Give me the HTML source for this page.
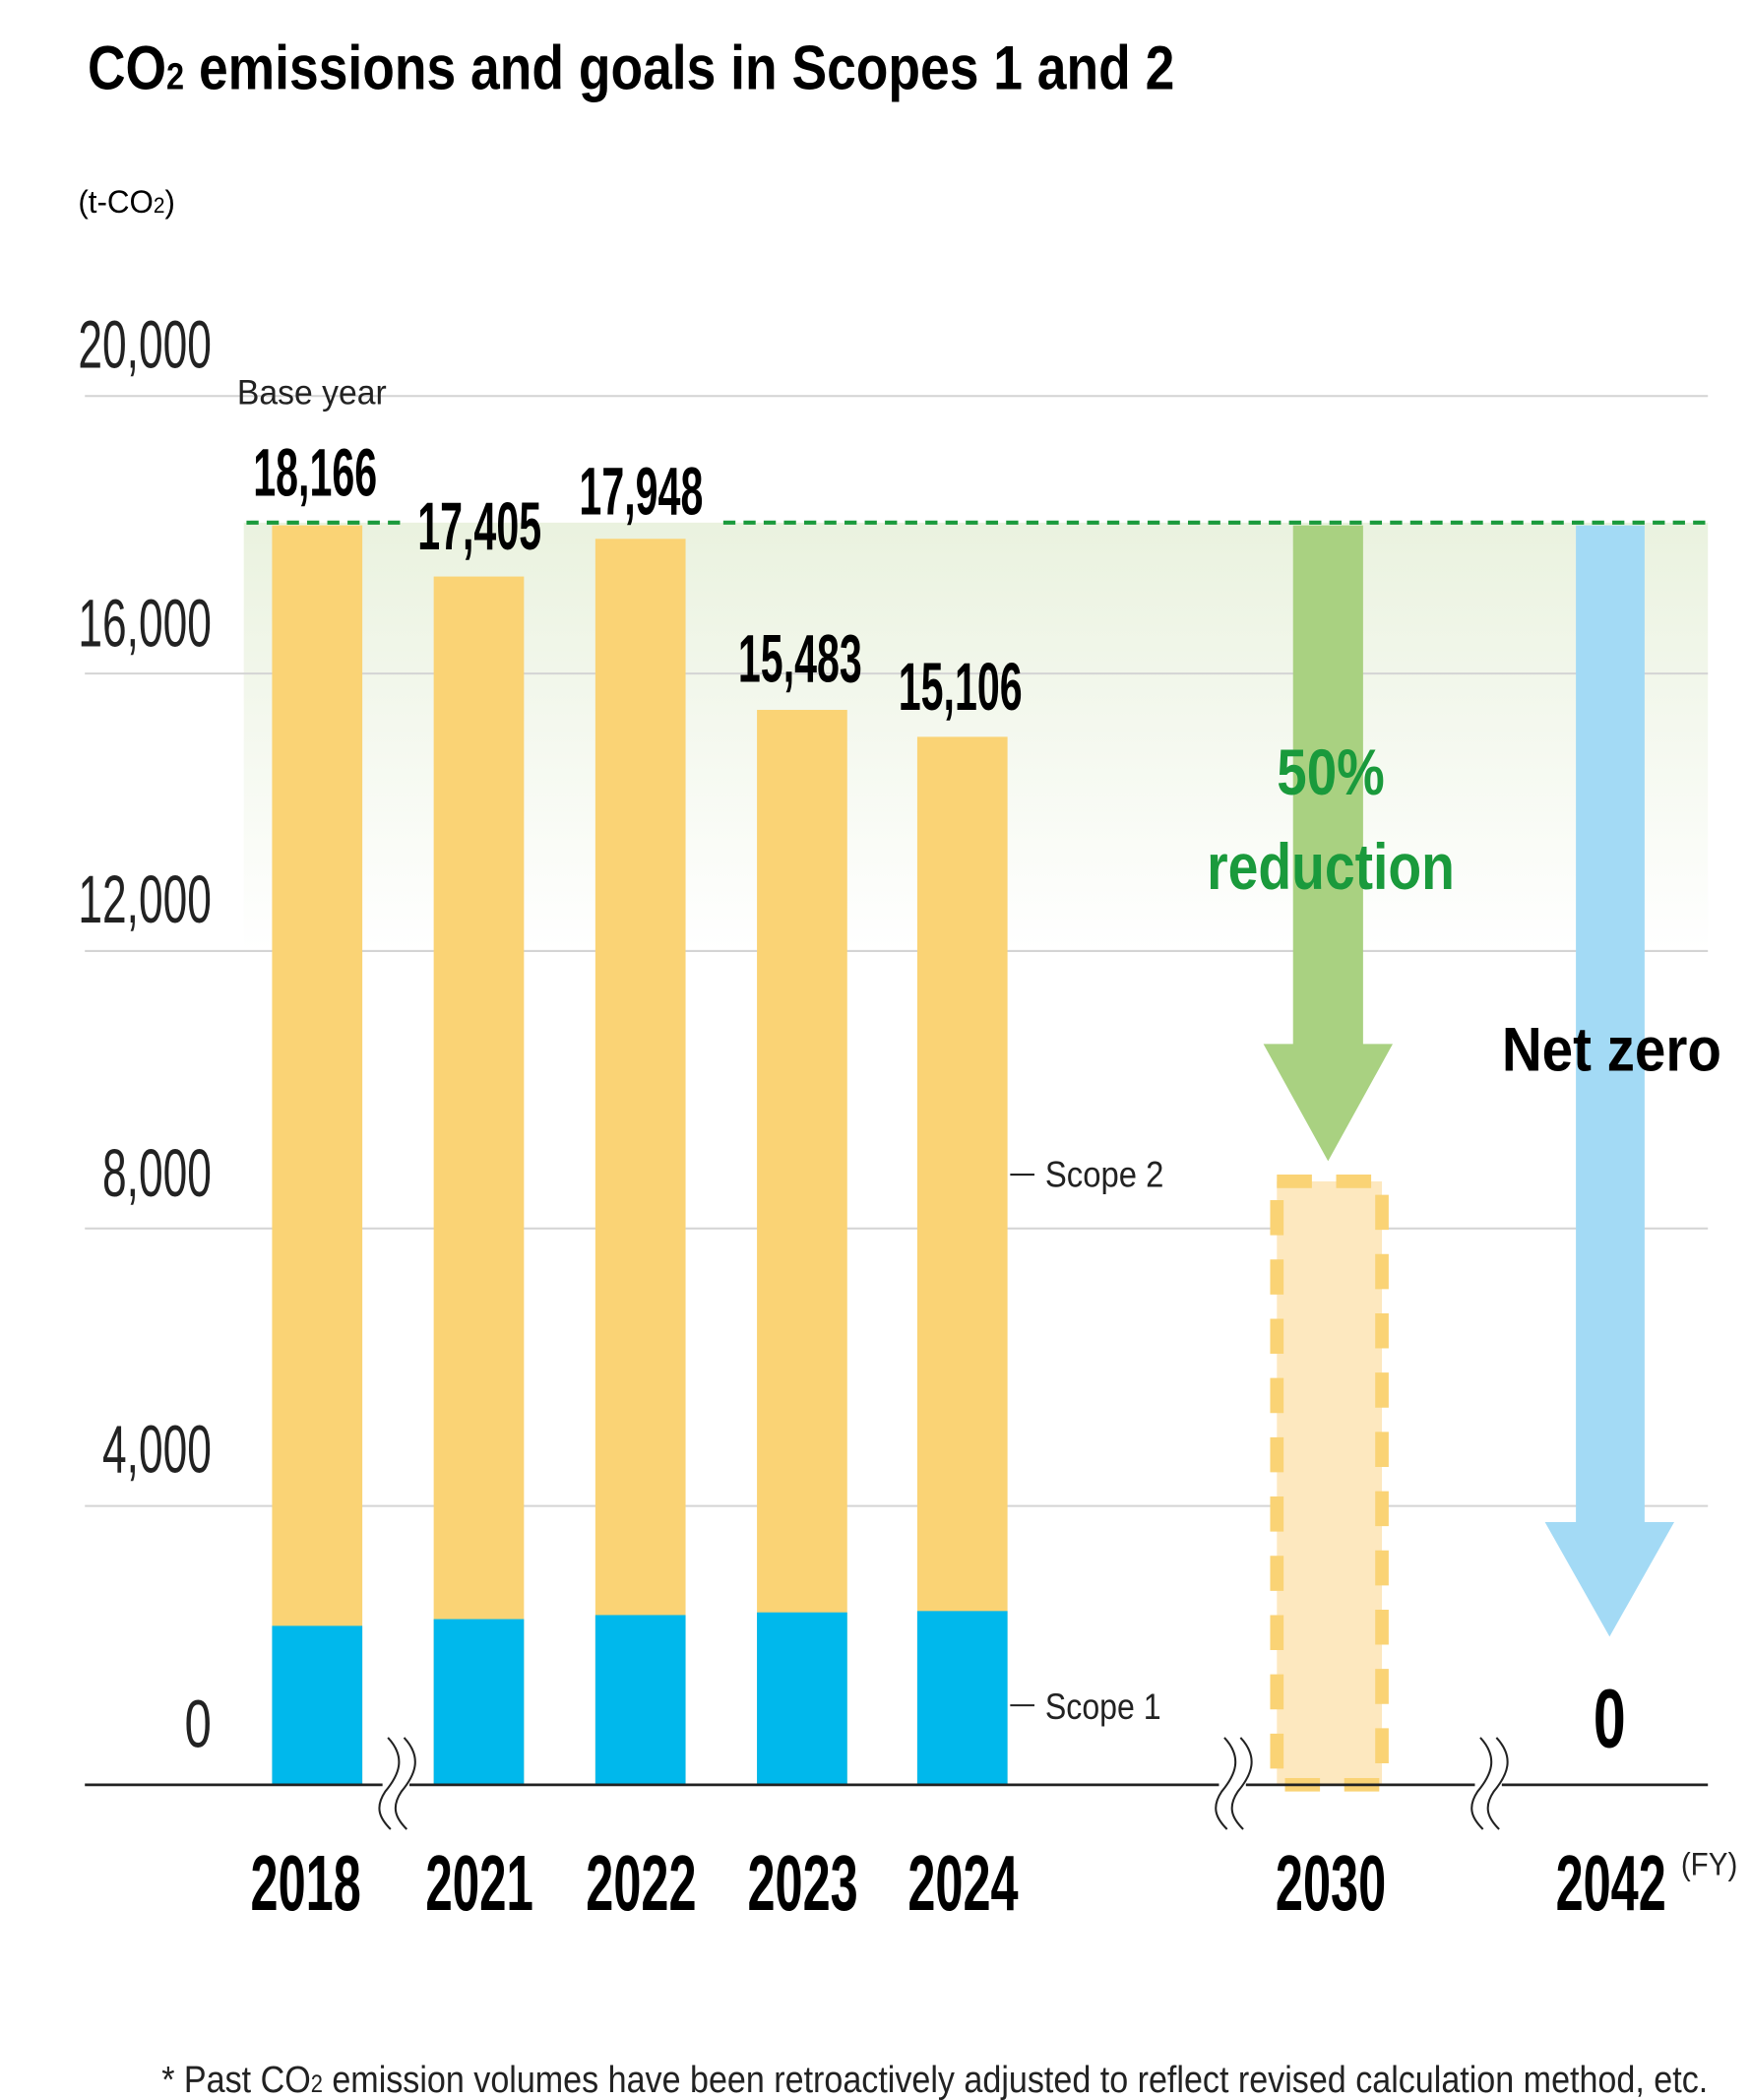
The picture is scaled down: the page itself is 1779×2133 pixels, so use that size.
<!DOCTYPE html>
<html><head><meta charset="utf-8"><style>html,body{margin:0;padding:0;background:#fff}svg{display:block}</style></head>
<body>
<svg width="1779" height="2133" viewBox="0 0 1300 1559" preserveAspectRatio="none" xmlns="http://www.w3.org/2000/svg" font-family="Liberation Sans, sans-serif">
<defs>
<linearGradient id="g" x1="0" y1="0" x2="0" y2="1">
<stop offset="0" stop-color="#eaf2df"/><stop offset="1" stop-color="#ffffff"/>
</linearGradient>
</defs>
<text x="65" y="66" font-size="46" font-weight="bold" textLength="807" lengthAdjust="spacingAndGlyphs">CO<tspan font-size="28">2</tspan> emissions and goals in Scopes 1 and 2</text>
<text x="58" y="158" font-size="24" textLength="72" lengthAdjust="spacingAndGlyphs">(t-CO<tspan font-size="16">2</tspan>)</text>
<rect x="181" y="388" width="1087" height="318" fill="url(#g)"/>
<g stroke="#d4d4d4" stroke-width="1.5">
<line x1="63" y1="294" x2="1268" y2="294"/><line x1="63" y1="500" x2="1268" y2="500"/><line x1="63" y1="706" x2="1268" y2="706"/><line x1="63" y1="912" x2="1268" y2="912"/><line x1="63" y1="1118" x2="1268" y2="1118"/>
</g>
<g font-size="50" text-anchor="end" fill="#222">
<text x="157" y="273" textLength="99" lengthAdjust="spacingAndGlyphs">20,000</text>
<text x="157" y="480" textLength="99" lengthAdjust="spacingAndGlyphs">16,000</text>
<text x="157" y="685" textLength="99" lengthAdjust="spacingAndGlyphs">12,000</text>
<text x="157" y="888" textLength="81" lengthAdjust="spacingAndGlyphs">8,000</text>
<text x="157" y="1093" textLength="81" lengthAdjust="spacingAndGlyphs">4,000</text>
<text x="157" y="1297" textLength="20" lengthAdjust="spacingAndGlyphs">0</text>
</g>
<g stroke="#1a9a3c" stroke-width="3" stroke-dasharray="9,6">
<line x1="183" y1="388" x2="300" y2="388"/><line x1="537" y1="388" x2="1268" y2="388"/>
</g>
<g fill="#fad375">
<rect x="202" y="390" width="67" height="935"/><rect x="322" y="428" width="67" height="897"/><rect x="442" y="400" width="67" height="925"/><rect x="562" y="527" width="67" height="798"/><rect x="681" y="547" width="67" height="778"/>
</g>
<g fill="#00b8ec">
<rect x="202" y="1207" width="67" height="118"/><rect x="322" y="1202" width="67" height="123"/><rect x="442" y="1199" width="67" height="126"/><rect x="562" y="1197" width="67" height="128"/><rect x="681" y="1196" width="67" height="129"/>
</g>
<text x="176" y="300" font-size="26" fill="#222" textLength="111" lengthAdjust="spacingAndGlyphs">Base year</text>
<g font-size="50" font-weight="bold" text-anchor="middle">
<text x="234" y="368" textLength="92" lengthAdjust="spacingAndGlyphs">18,166</text>
<text x="356" y="408" textLength="92" lengthAdjust="spacingAndGlyphs">17,405</text>
<text x="476" y="382" textLength="92" lengthAdjust="spacingAndGlyphs">17,948</text>
<text x="594" y="506" textLength="92" lengthAdjust="spacingAndGlyphs">15,483</text>
<text x="713" y="527" textLength="92" lengthAdjust="spacingAndGlyphs">15,106</text>
</g>
<g stroke="#222" stroke-width="1.5"><line x1="750" y1="872" x2="768" y2="872"/><line x1="750" y1="1266" x2="768" y2="1266"/></g>
<text x="776" y="881" font-size="27" fill="#222" textLength="88" lengthAdjust="spacingAndGlyphs">Scope 2</text>
<text x="776" y="1276" font-size="27" fill="#222" textLength="86" lengthAdjust="spacingAndGlyphs">Scope 1</text>
<polygon points="960,390 1012,390 1012,775 1034,775 986,862 938,775 960,775" fill="#a9d181"/>
<text x="988" y="590" font-size="48" font-weight="bold" fill="#1a9a3c" text-anchor="middle" textLength="80" lengthAdjust="spacingAndGlyphs">50%</text>
<text x="988" y="660" font-size="48" font-weight="bold" fill="#1a9a3c" text-anchor="middle" textLength="184" lengthAdjust="spacingAndGlyphs">reduction</text>
<rect x="948" y="877" width="78" height="448" fill="#fde8bf" stroke="#fad375" stroke-width="10" stroke-dasharray="26,18"/>
<polygon points="1170,390 1221,390 1221,1130 1243,1130 1195,1215 1147,1130 1170,1130" fill="#a3daf5"/>
<text x="1115" y="795" font-size="46" font-weight="bold" textLength="163" lengthAdjust="spacingAndGlyphs">Net zero</text>
<text x="1195" y="1297" font-size="62" font-weight="bold" text-anchor="middle" textLength="24" lengthAdjust="spacingAndGlyphs">0</text>
<line x1="63" y1="1325" x2="1268" y2="1325" stroke="#222" stroke-width="2"/>
<g fill="none" stroke="#222" stroke-width="1.5">
<g transform="translate(282,1290)"><rect x="2" y="30" width="20" height="10" fill="#fff" stroke="none"/><path d="M6,0 C20,15 14,28 4,40 C-4,52 0,60 8,68"/><path d="M18,0 C32,15 26,28 16,40 C8,52 12,60 20,68"/></g>
<g transform="translate(903,1290)"><rect x="2" y="30" width="20" height="10" fill="#fff" stroke="none"/><path d="M6,0 C20,15 14,28 4,40 C-4,52 0,60 8,68"/><path d="M18,0 C32,15 26,28 16,40 C8,52 12,60 20,68"/></g>
<g transform="translate(1093,1290)"><rect x="2" y="30" width="20" height="10" fill="#fff" stroke="none"/><path d="M6,0 C20,15 14,28 4,40 C-4,52 0,60 8,68"/><path d="M18,0 C32,15 26,28 16,40 C8,52 12,60 20,68"/></g>
</g>
<g font-size="58" font-weight="bold" text-anchor="middle">
<text x="227" y="1418" textLength="82" lengthAdjust="spacingAndGlyphs">2018</text>
<text x="356" y="1418" textLength="80" lengthAdjust="spacingAndGlyphs">2021</text>
<text x="476" y="1418" textLength="82" lengthAdjust="spacingAndGlyphs">2022</text>
<text x="596" y="1418" textLength="82" lengthAdjust="spacingAndGlyphs">2023</text>
<text x="715" y="1418" textLength="82" lengthAdjust="spacingAndGlyphs">2024</text>
<text x="988" y="1418" textLength="82" lengthAdjust="spacingAndGlyphs">2030</text>
<text x="1196" y="1418" textLength="82" lengthAdjust="spacingAndGlyphs">2042</text>
</g>
<text x="1248" y="1392" font-size="24" fill="#222" textLength="42" lengthAdjust="spacingAndGlyphs">(FY)</text>
<text x="120" y="1553" font-size="28" fill="#222" textLength="1148" lengthAdjust="spacingAndGlyphs">* Past CO<tspan font-size="18">2</tspan> emission volumes have been retroactively adjusted to reflect revised calculation method, etc.</text>
</svg>
</body></html>
